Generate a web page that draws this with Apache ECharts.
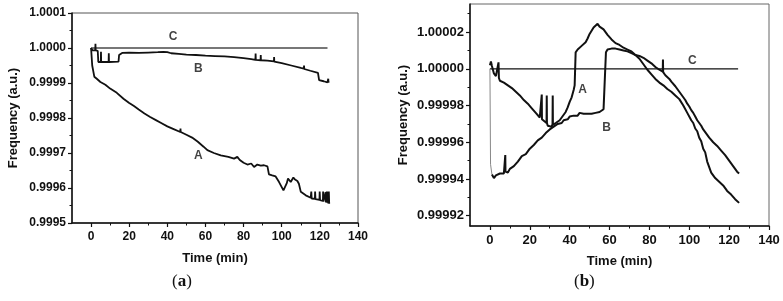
<!DOCTYPE html>
<html>
<head>
<meta charset="utf-8">
<script src="https://cdn.jsdelivr.net/npm/echarts@6/dist/echarts.min.js"></script>
<style>
  html, body { margin: 0; padding: 0; background: #fff; }
  #chart { width: 783px; height: 301px; }
</style>
</head>
<body>
<div id="chart"></div>
<script>
// tick labels
const xTicks = [0, 20, 40, 60, 80, 100, 120, 140];
const xMinor = [10, 30, 50, 70, 90, 110, 130];
const bTicks = [0.99992, 0.99994, 0.99996, 0.99998, 1.00000, 1.00002];
const bMinor = [0.99993, 0.99995, 0.99997, 0.99999, 1.00001, 1.00003];

// panel (a): [time (min), frequency]
const aC = [[0, 1.0], [124, 1.0]];
const aB = [[0, 1.00000], [0.8, 0.999993], [2.2, 0.999993], [2.3, 1.000012], [2.4, 0.999993], [3.5, 0.999992], [3.8, 0.99996],
  [5.1, 0.99996], [5.2, 0.999989], [5.3, 0.99996], [9.2, 0.99996], [9.3, 0.999985], [9.4, 0.99996], [14.4, 0.999961], [14.7, 0.99998],
  [16.3, 0.999986], [20, 0.999987], [25, 0.999986], [30, 0.999987], [35, 0.999988], [38, 0.999989], [40, 0.999988], [42, 0.999985],
  [46, 0.999983], [50, 0.999981], [55, 0.99998], [60, 0.999978], [65, 0.999977], [70, 0.999976], [75, 0.999974], [80, 0.999971],
  [84, 0.999968], [86.2, 0.999966], [86.3, 0.999984], [86.4, 0.999966], [88.9, 0.999965], [89, 0.99998], [89.1, 0.999965],
  [92.5, 0.999964], [95.9, 0.999962], [96, 0.999974], [96.1, 0.999961], [100, 0.999957], [105, 0.99995], [110, 0.999943],
  [111.6, 0.999941], [111.7, 0.99995], [111.8, 0.99994], [115, 0.999935], [119, 0.999929], [119.6, 0.999908], [120, 0.999906],
  [122, 0.999905], [124, 0.999902], [124.4, 0.999912], [124.5, 0.999903], [125, 0.999903]];
const aA = [[0, 1.00000], [0.4, 0.999995], [0.6, 0.99995], [1.7, 0.999918], [3, 0.999912], [4.9, 0.999903], [7.5, 0.999895],
  [10, 0.999884], [13.5, 0.999872], [17, 0.999855], [20, 0.999843], [22.5, 0.999834], [25, 0.999824], [28, 0.999813], [31, 0.999803],
  [34, 0.999794], [37, 0.999785], [40, 0.999776], [43, 0.999769], [46.8, 0.99976], [46.9, 0.99977], [47, 0.99976], [50, 0.999752],
  [53, 0.999744], [56, 0.999732], [59, 0.999718], [61, 0.999708], [64.4, 0.9997], [68, 0.999693], [72, 0.999689], [75, 0.999684],
  [76.7, 0.999689], [78, 0.99968], [80, 0.999672], [82, 0.999667], [84, 0.99967], [85.5, 0.99966], [87.2, 0.999667], [89, 0.999664],
  [90.7, 0.999665], [92.5, 0.999662], [93.3, 0.999639], [95, 0.999636], [96.8, 0.999633], [98.6, 0.999617], [100.9, 0.999593],
  [102.6, 0.999613], [103.3, 0.999627], [104.7, 0.999617], [106.1, 0.99963], [107, 0.999624], [108.2, 0.99962], [109, 0.999612],
  [110, 0.999589], [112.6, 0.999579], [115.2, 0.999572], [115.5, 0.99959], [115.7, 0.99957], [117.4, 0.999569], [117.5, 0.99959],
  [117.7, 0.999568], [119.8, 0.999566], [119.9, 0.99959], [120.1, 0.999565], [121.6, 0.999563], [121.7, 0.99959], [121.9, 0.999561],
  [122.9, 0.99956], [123.0, 0.999588], [123.2, 0.999559], [123.6, 0.99959], [123.8, 0.999558], [124.2, 0.99959], [124.4, 0.999556],
  [124.7, 0.99959], [124.9, 0.999555]];
const aLabels = [[43, 1.000031, 'C'], [56.2, 0.999941, 'B'], [56.2, 0.999691, 'A']];

// panel (b): [time (min), deviation from 1 in ppm]
const bC = [[0, 0], [124.5, 0]];
const bA = [[0, 2], [0.5, 4], [1, 1.5], [2, -2.5], [3, -4], [4, -3.5], [4.3, 3.5], [4.5, -5], [5, -6.5], [6, -6], [7, -7.5], [8, -7],
  [9, -9], [10, -9.5], [11, -10.5], [12, -11], [13, -12.5], [14, -12], [15, -14.5], [16, -14.5], [17, -17], [18, -16.5], [19, -19],
  [20, -19.5], [21, -21.5], [22, -22], [23, -24], [24, -24], [25, -26.5], [25.9, -26.5], [26, -14], [26.1, -27.5], [27, -28],
  [28.4, -29.5], [28.5, -14.5], [28.6, -29.5], [29, -31], [30, -30.5], [31, -31.5], [31.4, -30], [31.5, -14.5], [31.6, -30.5],
  [32, -31.5], [33, -29.5], [34, -30], [35, -28], [36, -27.5], [37, -25], [38, -23.5], [39, -21], [40, -18], [41, -15.5], [42, -11.5],
  [42.5, -9], [43, 9], [44, 10.5], [45, 10], [46, 12.5], [47, 12.5], [48, 14.5], [49, 16.5], [50, 19], [51, 20], [52, 22.5], [53, 22.5],
  [54, 24.5], [55, 23], [56, 23], [57, 21.5], [58, 20.5], [59, 18.5], [60, 18], [61, 16], [62, 16], [63, 14], [64, 14.5], [65, 13],
  [66, 13.5], [67, 11.5], [68, 12.5], [69, 10.5], [70, 11], [71, 9.5], [72, 9.5], [73, 7.5], [74, 8], [75, 5.5], [76, 5.5], [77, 2.5],
  [78, 2], [79, -0.5], [80, -0.5], [81, -3], [82, -3], [83, -5.5], [84, -5.5], [85, -7.5], [86, -7.5], [87, -9], [88, -9.5], [89, -11],
  [90, -11], [91, -12.5], [92, -12.5], [93, -14.5], [94, -14.5], [95, -16.5], [96, -17], [97, -20], [98, -20.5], [99, -24], [100, -25],
  [101, -28], [102, -29.5], [103, -32.5], [104, -34], [105, -37.5], [106, -39.5], [107, -43.5], [108, -45.5], [109, -50.5], [110, -53.5],
  [111, -56.5], [112, -57], [113, -59.5], [114, -59.5], [115, -61.5], [116, -62], [117, -63.5], [118, -64], [119, -66.5], [120, -66.5],
  [121, -68.5], [122, -69], [123, -71], [124, -71.5], [125, -73]];
const bBDrop = [[0, 0], [0.3, -52], [1, -57.5]];
const bB = [[1, -57.5], [2, -59.5], [3, -58], [4, -57.5], [5, -57], [6, -56.5], [7, -57], [7.6, -56], [7.7, -47],
  [7.8, -56], [8, -55.5], [9, -56.5], [10, -54.5], [11, -55.5], [12, -53], [13, -53], [14, -50.5], [15, -49.5], [16, -47.5], [17, -46.5],
  [18, -46.5], [19, -45.5], [20, -43.5], [21, -44], [22, -41.5], [23, -41.5], [24, -39], [25, -39], [26, -37.5], [27, -37.5], [28, -35],
  [29, -35], [30, -33], [31, -33], [32, -31.5], [33, -31.5], [34, -30], [35, -29.5], [36, -29.5], [37, -28], [38, -27], [39, -27.5],
  [40, -26], [41, -26.5], [42, -25.5], [43, -24.5], [44, -25.5], [45, -24], [46, -25], [47, -24.5], [48, -23.5], [49, -24.5], [50, -24],
  [51, -24.5], [52, -23.5], [53, -24], [54, -23], [55, -23.5], [56, -22.5], [57, -22], [57.8, -21], [58.2, 9], [59, 10.5], [60, 11.5],
  [61, 11], [62, 12], [63, 11], [64, 11.5], [65, 10.5], [66, 11], [67, 10], [68, 10.5], [69, 9.5], [70, 9.5], [71, 8.5], [72, 9],
  [73, 7.5], [74, 8], [75, 7], [76, 6.5], [77, 6], [78, 5], [79, 4.5], [80, 3.5], [81, 3], [82, 2], [83, 1], [84, 0.5], [85, -0.5],
  [86, -1.5], [86.7, -1.5], [86.8, 5], [86.9, -1.8], [87, -2], [88, -3.5], [89, -4.5], [90, -5.5], [91, -7], [92, -8], [93, -9.5],
  [94, -11], [95, -12.5], [96, -14], [97, -15.5], [98, -17], [99, -19], [100, -20.5], [101, -22.5], [102, -24], [103, -26], [104, -28],
  [105, -29.5], [106, -31], [107, -33], [108, -34.5], [109, -36], [110, -37.5], [111, -38.5], [112, -40], [113, -41], [114, -42],
  [115, -43], [116, -44.5], [117, -45], [118, -47], [119, -48], [120, -50], [121, -51.5], [122, -53], [123, -54.5], [124, -56], [125, -57]];
const bLabels = [[101.5, 4.7, 'C'], [46.5, -11.6, 'A'], [58.5, -31.9, 'B']];

const toFreq = arr => arr.map(p => [p[0], 1 + p[1] * 1e-6].concat(p.slice(2)));

const FONT = 'Liberation Sans';
const tickFont = { fontFamily: FONT, fontWeight: 'bold', fontSize: 12, color: '#111' };
const tickFontB = { fontFamily: FONT, fontWeight: 'bold', fontSize: 13, color: '#111' };
const nameFont = { fontFamily: FONT, fontWeight: 'bold', fontSize: 13, color: '#111' };

function xMain(grid, font) {
  return {
    type: 'value', gridIndex: grid, min: -10, max: 140,
    name: 'Time (min)', nameLocation: 'middle', nameGap: 29, nameTextStyle: nameFont,
    axisLine: { onZero: false, lineStyle: { color: '#111', width: 1.5 } },
    axisTick: { customValues: xTicks, length: 4, lineStyle: { color: '#111', width: 1.2 } },
    axisLabel: Object.assign({ customValues: xTicks, margin: 8 }, font),
    splitLine: { show: false }
  };
}
function xMinorAxis(grid) {
  return {
    type: 'value', gridIndex: grid, min: -10, max: 140, position: 'bottom',
    axisLine: { show: false, onZero: false },
    axisTick: { customValues: xMinor, length: 2.5, lineStyle: { color: '#111', width: 1 } },
    axisLabel: { show: false }, splitLine: { show: false }
  };
}

const labelSeries = (data, x, y) => ({
  type: 'scatter', xAxisIndex: x, yAxisIndex: y, data: data, symbolSize: 0, silent: true,
  label: { show: true, position: 'inside', formatter: p => p.value[2],
    fontFamily: FONT, fontWeight: 'bold', fontSize: 12, color: '#111' }
});

const lineSeries = (data, x, y, color, width) => ({
  type: 'line', xAxisIndex: x, yAxisIndex: y, data: data, showSymbol: false, symbol: 'none',
  sampling: null, silent: true, lineStyle: { color: color, width: width }
});

const option = {
  animation: false,
  backgroundColor: '#fff',
  grid: [
    { left: 72, top: 13, width: 286, height: 210, show: true, borderColor: '#555', borderWidth: 1 },
    { left: 470, top: 4, width: 299, height: 222, show: true, borderColor: '#666', borderWidth: 1 }
  ],
  xAxis: [xMain(0, tickFont), xMinorAxis(0), xMain(1, tickFontB), xMinorAxis(1)],
  yAxis: [
    {
      type: 'value', gridIndex: 0, min: 0.9995, max: 1.0001, interval: 0.0001,
      name: 'Frequency (a.u.)', nameLocation: 'middle', nameGap: 52, nameTextStyle: nameFont,
      axisLine: { show: true, onZero: false, lineStyle: { color: '#111', width: 1.5 } },
      axisTick: { show: true, length: 4, lineStyle: { color: '#111', width: 1.2 } },
      minorTick: { show: true, splitNumber: 2, length: 2.5, lineStyle: { color: '#111', width: 1 } },
      axisLabel: Object.assign({ margin: 6, formatter: v => v.toFixed(4) }, tickFont),
      splitLine: { show: false }
    },
    {
      type: 'value', gridIndex: 1, min: 0.9999144, max: 1.0000353,
      name: 'Frequency (a.u.)', nameLocation: 'middle', nameGap: 60, nameTextStyle: nameFont,
      axisLine: { show: true, onZero: false, lineStyle: { color: '#111', width: 1.5 } },
      axisTick: { show: true, customValues: bTicks, length: 4, lineStyle: { color: '#111', width: 1.2 } },
      axisLabel: Object.assign({ customValues: bTicks, margin: 6, formatter: v => v.toFixed(5) }, tickFontB),
      splitLine: { show: false }
    },
    {
      type: 'value', gridIndex: 1, min: 0.9999144, max: 1.0000353, position: 'left',
      axisLine: { show: false, onZero: false },
      axisTick: { show: true, customValues: bMinor, length: 2.5, lineStyle: { color: '#111', width: 1 } },
      axisLabel: { show: false }, splitLine: { show: false }
    }
  ],
  series: [
    lineSeries(aC, 0, 0, '#777', 2),
    lineSeries(aB, 0, 0, '#111', 1.8),
    lineSeries(aA, 0, 0, '#111', 1.8),
    labelSeries(aLabels, 0, 0),
    lineSeries(toFreq(bC), 2, 1, '#111', 1.2),
    lineSeries(toFreq(bBDrop), 2, 1, '#888', 1),
    lineSeries(toFreq(bB), 2, 1, '#111', 2),
    lineSeries(toFreq(bA), 2, 1, '#111', 2),
    labelSeries(toFreq(bLabels), 2, 1)
  ],
  graphic: [
    { type: 'text', left: 172, top: 273, style: { text: '({a|a})', rich: { a: { fontWeight: 'bold', fontFamily: 'Liberation Serif', fontSize: 17 } },
      fontFamily: 'Liberation Serif', fontSize: 17, fill: '#111' } },
    { type: 'text', left: 574, top: 273, style: { text: '({a|b})', rich: { a: { fontWeight: 'bold', fontFamily: 'Liberation Serif', fontSize: 17 } },
      fontFamily: 'Liberation Serif', fontSize: 17, fill: '#111' } }
  ]
};

const chart = echarts.init(document.getElementById('chart'), null, { renderer: 'canvas' });
chart.setOption(option);
</script>
</body>
</html>
